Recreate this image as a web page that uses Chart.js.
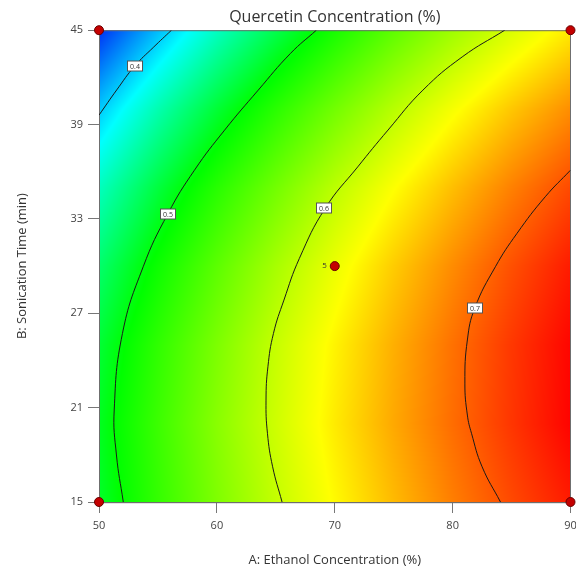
<!DOCTYPE html>
<html>
<head>
<meta charset="utf-8">
<script src="https://cdn.jsdelivr.net/npm/chart.js@4.4.0/dist/chart.umd.min.js"></script>
<style>
  html, body { margin:0; padding:0; background:#fff; }
</style>
</head>
<body>
<canvas id="c" width="576" height="570"></canvas>
<script>
// response grid (rows = sonication time, cols = ethanol %)
const ethanol = [50, 55, 60, 65, 70, 75, 80, 85, 90];
const time = [15, 20, 25, 30, 35, 40, 45];
const q15 = [0.486, 0.525, 0.562, 0.596, 0.627, 0.656, 0.683, 0.707, 0.728];
const q20 = [0.489, 0.529, 0.567, 0.601, 0.634, 0.664, 0.691, 0.716, 0.739];
const q25 = [0.482, 0.523, 0.561, 0.597, 0.630, 0.661, 0.689, 0.715, 0.738];
const q30 = [0.464, 0.506, 0.545, 0.582, 0.616, 0.648, 0.677, 0.704, 0.728];
const q35 = [0.436, 0.479, 0.519, 0.556, 0.592, 0.624, 0.654, 0.682, 0.707];
const q40 = [0.397, 0.441, 0.482, 0.520, 0.556, 0.590, 0.621, 0.650, 0.676];
const q45 = [0.348, 0.393, 0.435, 0.474, 0.511, 0.546, 0.578, 0.607, 0.634];
const grid = [q15, q20, q25, q30, q35, q40, q45];

// contour lines (ethanol, time)
const c04x = [56.15, 54.6, 53.04, 51.5, 50.0];
const c04y = [45.0, 43.9, 42.73, 41.2, 39.6];
const c05x = [68.44, 66.24, 63.51, 60.66, 58.1, 55.85, 53.75, 51.99, 51.29, 51.48, 52.06];
const c05y = [45.0, 43.52, 41.19, 38.65, 36.10, 33.34, 29.96, 25.72, 20.85, 17.99, 15.0];
const c06x = [84.42, 80.81, 77.48, 74.52, 71.95, 69.2, 67.0, 65.69, 64.80, 64.33, 64.17, 64.29, 64.73, 65.53];
const c06y = [45.0, 43.30, 41.19, 38.65, 36.31, 33.69, 30.49, 27.84, 25.72, 23.60, 21.48, 19.37, 17.24, 15.0];
const c07x = [90.0, 87.86, 85.46, 83.63, 81.88, 81.25, 81.04, 81.25, 81.60, 82.50, 84.06];
const c07y = [36.10, 34.41, 32.08, 29.96, 27.33, 25.30, 22.56, 20.53, 19.37, 17.24, 15.0];

// contour labels
const levelText = ['0.4', '0.5', '0.6', '0.7'];
const levelX = [53.04, 55.85, 69.1, 81.88];
const levelY = [42.73, 33.34, 33.69, 27.33];

// design points
const designX = [50, 50, 90, 90, 70];
const designY = [15, 45, 15, 45, 30];
const designRuns = ['', '', '', '', '5'];

// colour scale
const stopVals = [0.345, 0.415, 0.50, 0.625, 0.74];
const stopCols = [[0, 40, 245], [0, 255, 255], [0, 255, 0], [255, 255, 0], [255, 0, 0]];

function colorAt(v){
  if(v <= stopVals[0]) return stopCols[0];
  for(let i=1;i<stopVals.length;i++){
    if(v <= stopVals[i]){
      const t = (v - stopVals[i-1]) / (stopVals[i] - stopVals[i-1]);
      const a = stopCols[i-1], b = stopCols[i];
      return [a[0]+(b[0]-a[0])*t, a[1]+(b[1]-a[1])*t, a[2]+(b[2]-a[2])*t];
    }
  }
  return stopCols[stopCols.length-1];
}

function findCell(arr, v){
  let i = 0;
  while(i < arr.length-2 && v > arr[i+1]) i++;
  const t = Math.min(1, Math.max(0, (v - arr[i]) / (arr[i+1] - arr[i])));
  return [i, t];
}

function valueAt(A, B){
  const [i, tx] = findCell(ethanol, A);
  const [j, ty] = findCell(time, B);
  const v00 = grid[j][i], v10 = grid[j][i+1], v01 = grid[j+1][i], v11 = grid[j+1][i+1];
  return (v00*(1-tx) + v10*tx)*(1-ty) + (v01*(1-tx) + v11*tx)*ty;
}

const pts = (xs, ys) => xs.map((x, i) => ({x, y: ys[i]}));

// heat map + frame under the datasets, labels on top
const surfacePlugin = {
  id: 'surface',
  beforeDatasetsDraw(chart){
    const {ctx, chartArea: a, scales: {x, y}} = chart;
    const w = Math.round(a.right - a.left), h = Math.round(a.bottom - a.top);
    const off = document.createElement('canvas');
    off.width = w; off.height = h;
    const octx = off.getContext('2d');
    const img = octx.createImageData(w, h);
    for(let py=0; py<h; py++){
      const B = y.getValueForPixel(a.top + py + 0.5);
      for(let px=0; px<w; px++){
        const A = x.getValueForPixel(a.left + px + 0.5);
        const c = colorAt(valueAt(A, B));
        const k = (py*w + px)*4;
        img.data[k] = c[0]; img.data[k+1] = c[1]; img.data[k+2] = c[2]; img.data[k+3] = 255;
      }
    }
    octx.putImageData(img, 0, 0);
    ctx.drawImage(off, a.left, a.top);
    ctx.save();
    ctx.strokeStyle = '#6f6f6f';
    ctx.lineWidth = 1;
    ctx.strokeRect(a.left + 0.5, a.top + 0.5, w - 1, h);
    ctx.restore();
  },
  afterDatasetsDraw(chart){
    const {ctx, scales: {x, y}} = chart;
    ctx.save();
    ctx.font = '7px "Open Sans", sans-serif';
    ctx.textAlign = 'center';
    ctx.textBaseline = 'middle';
    levelText.forEach((t, i) => {
      const cx = Math.round(x.getPixelForValue(levelX[i]));
      const cy = Math.round(y.getPixelForValue(levelY[i]));
      ctx.fillStyle = '#fff';
      ctx.fillRect(cx - 7.5, cy - 5, 15, 10);
      ctx.strokeStyle = '#555';
      ctx.lineWidth = 1;
      ctx.strokeRect(cx - 7.5, cy - 5, 15, 10);
      ctx.fillStyle = '#333';
      ctx.fillText(t, cx, cy + 0.5);
    });
    ctx.font = '8px "Open Sans", sans-serif';
    ctx.textAlign = 'right';
    designRuns.forEach((t, i) => {
      if(!t) return;
      ctx.fillStyle = '#333';
      ctx.fillText(t, x.getPixelForValue(designX[i]) - 8, y.getPixelForValue(designY[i]));
    });
    ctx.restore();
  }
};

const contourStyle = {
  type: 'line', showLine: true, pointRadius: 0, borderColor: '#1a1a1a',
  borderWidth: 1, tension: 0.45, fill: false
};

new Chart(document.getElementById('c'), {
  type: 'scatter',
  data: {
    datasets: [
      { label: 'design', data: pts(designX, designY), pointRadius: 4.5, pointHoverRadius: 4.5,
        backgroundColor: '#c40000', borderColor: '#6a0000', borderWidth: 1, clip: false },
      Object.assign({ label: '0.4', data: pts(c04x, c04y) }, contourStyle),
      Object.assign({ label: '0.5', data: pts(c05x, c05y) }, contourStyle),
      Object.assign({ label: '0.6', data: pts(c06x, c06y) }, contourStyle),
      Object.assign({ label: '0.7', data: pts(c07x, c07y) }, contourStyle)
    ]
  },
  options: {
    responsive: false,
    animation: false,
    devicePixelRatio: 1,
    layout: { padding: { left: 0, right: 4, top: 0, bottom: 0 } },
    plugins: {
      legend: { display: false },
      tooltip: { enabled: false },
      title: {
        display: true, fullSize: false,
        text: 'Quercetin Concentration (%)',
        color: '#333',
        font: { family: '"Open Sans", sans-serif', size: 16, weight: 'normal' },
        padding: { top: 8, bottom: 3 }
      }
    },
    scales: {
      x: {
        type: 'linear', min: 50, max: 90,
        ticks: { stepSize: 10, color: '#444', padding: 6,
          font: { family: '"Open Sans", sans-serif', size: 11 } },
        grid: { drawOnChartArea: false, drawTicks: true, tickLength: 11, color: '#777' },
        border: { display: true, color: '#6f6f6f' },
        title: { display: true, text: 'A: Ethanol Concentration (%)', color: '#333',
          font: { family: '"Open Sans", sans-serif', size: 13 }, padding: { top: 0, bottom: 2 } },
        afterFit(s){ s.height = 68; s.paddingLeft = 0; s.paddingRight = 0; }
      },
      y: {
        type: 'linear', min: 15, max: 45,
        ticks: { stepSize: 6, color: '#444', padding: 5,
          font: { family: '"Open Sans", sans-serif', size: 11 } },
        grid: { drawOnChartArea: false, drawTicks: true, tickLength: 11, color: '#777' },
        border: { display: true, color: '#6f6f6f' },
        title: { display: true, text: 'B: Sonication Time (min)', color: '#333',
          font: { family: '"Open Sans", sans-serif', size: 13 }, padding: { top: 14, bottom: 0 } },
        afterFit(s){ s.width = 99; s.paddingTop = 0; s.paddingBottom = 0; }
      }
    }
  },
  plugins: [surfacePlugin]
});
</script>
</body>
</html>
